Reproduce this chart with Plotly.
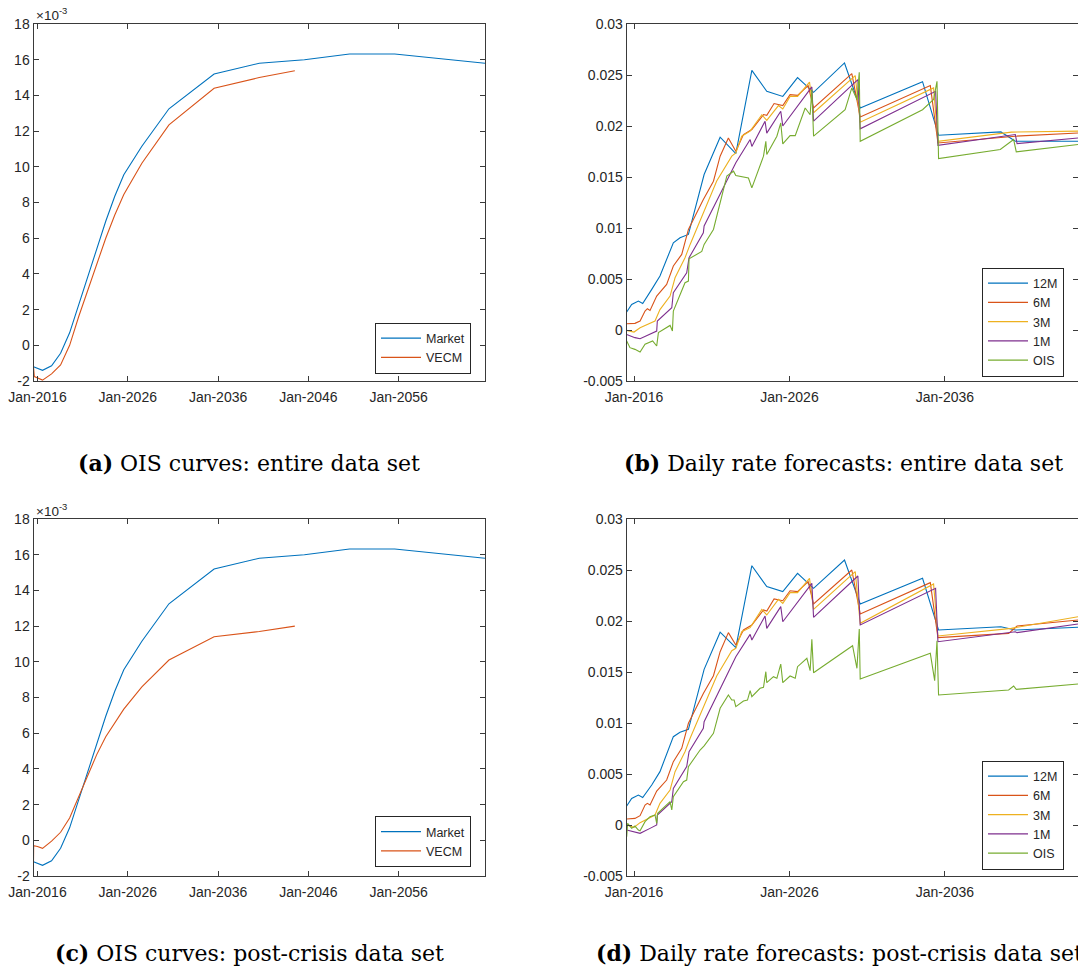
import plotly.graph_objects as go

# ------------------------------------------------------------------ data
# (a)/(c) OIS curves, values in units of 1e-3, x in decimal years
market_years = [2015.56, 2016.56, 2017.56, 2018.56, 2019.56, 2020.56, 2021.56, 2022.56,
                2023.56, 2024.56, 2025.56, 2027.56, 2030.56, 2035.56, 2040.56, 2045.56,
                2050.56, 2055.56, 2060.56, 2065.56]
market_curve = [-1.2, -1.4, -1.15, -0.45, 0.7, 2.25, 3.85, 5.4, 6.95, 8.35, 9.55, 11.15,
                13.25, 15.2, 15.8, 16.0, 16.32, 16.32, 16.05, 15.8]

vecm_full_years = [2015.56, 2015.65, 2016.56, 2017.56, 2018.56, 2019.56, 2020.56, 2021.56,
                   2022.56, 2023.56, 2024.56, 2025.56, 2027.56, 2030.56, 2035.56, 2040.56, 2044.5]
vecm_full_curve = [-1.2, -1.75, -1.95, -1.6, -1.1, 0.0, 1.6, 3.05, 4.55, 6.0, 7.3, 8.45,
                   10.2, 12.35, 14.4, 15.0, 15.38]

vecm_post_years = [2015.56, 2015.58, 2016.0, 2016.56, 2017.56, 2018.56, 2019.56, 2020.56,
                   2021.56, 2022.56, 2023.56, 2024.56, 2025.56, 2027.56, 2030.56, 2035.56,
                   2040.56, 2044.5]
vecm_post_curve = [-1.2, -0.3, -0.35, -0.45, -0.05, 0.45, 1.25, 2.45, 3.7, 4.8, 5.8, 6.6,
                   7.35, 8.6, 10.1, 11.4, 11.7, 12.0]

# (b)/(d) daily rate forecasts, values in units of 1e-3
y12_years = [2015.53, 2015.85, 2016.28, 2016.56, 2017.14, 2017.67, 2018.53, 2018.96, 2019.50,
             2020.51, 2021.54, 2022.55, 2023.58, 2024.54, 2025.57, 2026.52, 2027.55, 2029.54,
             2030.55, 2034.56, 2035.59, 2039.60, 2040.53, 2044.56]
full_12m = [1.76, 2.5, 2.84, 2.6, 3.98, 5.3, 8.55, 9.04, 9.37, 15.24, 18.9, 17.3, 25.46, 23.4,
            22.9, 24.74, 23.3, 26.18, 21.77, 24.35, 19.1, 19.42, 18.5, 18.5]
post_12m = [1.86, 2.6, 2.94, 2.7, 3.92, 5.23, 8.66, 9.1, 9.38, 15.26, 18.9, 17.4, 25.42, 23.37,
            22.88, 24.67, 23.2, 25.98, 21.67, 24.18, 19.12, 19.44, 19.12, 19.38]

full_6m_years = [2015.53, 2016.06, 2016.39, 2016.71, 2016.86, 2017.03, 2017.46, 2018.10, 2018.53,
                 2019.07, 2019.50, 2020.46, 2021.11, 2021.54, 2022.07, 2022.55, 2023.04, 2023.58,
                 2024.33, 2024.54, 2025.01, 2025.57, 2026.04, 2026.52, 2027.2, 2027.55, 2030.01,
                 2030.55, 2035.06, 2035.55, 2040.53, 2044.56]
full_6m = [0.62, 0.65, 0.88, 1.86, 2.09, 1.92, 3.33, 4.47, 6.27, 7.41, 9.86, 12.79, 14.59, 17.04,
           18.83, 17.53, 19.16, 19.65, 21.12, 21.05, 22.2, 22.0, 23.08, 23.0, 23.96, 21.77, 25.14,
           20.89, 23.96, 18.34, 19.0, 19.32]
post_6m_years = [2015.53, 2016.06, 2016.39, 2016.71, 2016.86, 2017.03, 2017.46, 2018.10, 2018.53,
                 2019.07, 2019.50, 2020.46, 2021.11, 2021.54, 2022.07, 2022.55, 2023.04, 2023.58,
                 2024.33, 2024.54, 2025.01, 2025.57, 2026.04, 2026.52, 2027.2, 2027.55, 2030.01,
                 2030.55, 2035.06, 2035.55, 2040.10, 2040.64, 2044.56]
post_6m = [0.59, 0.65, 0.92, 1.96, 2.12, 1.96, 3.33, 4.41, 6.21, 7.52, 9.97, 12.9, 14.64, 16.99,
           18.86, 17.65, 19.12, 19.61, 21.08, 20.98, 22.16, 21.99, 22.97, 22.88, 23.86, 21.67,
           25.0, 20.69, 23.76, 18.37, 18.79, 19.51, 20.1]

y3_years = [2015.53, 2016.0, 2016.39, 2017.35, 2017.67, 2018.32, 2018.64, 2019.28, 2019.61,
            2020.25, 2020.57, 2021.32, 2022.29, 2022.55, 2022.93, 2023.47, 2024.22, 2024.54,
            2025.29, 2025.57, 2026.04, 2026.52, 2027.29, 2027.55, 2030.23, 2030.55, 2035.27,
            2035.55, 2040.27, 2044.56]
full_3m = [-0.04, -0.2, 0.22, 0.88, 2.0, 3.33, 5.12, 7.08, 8.39, 10.67, 11.8, 14.6, 17.04, 17.37,
           19.0, 19.5, 21.1, 20.56, 22.0, 21.67, 22.9, 22.9, 24.3, 21.3, 24.94, 20.37, 23.73,
           18.5, 19.4, 19.5]
post_3m = [0.0, -0.23, 0.23, 0.98, 2.12, 3.43, 5.23, 7.19, 8.5, 10.78, 11.9, 14.61, 17.09, 17.32,
           18.95, 19.35, 21.14, 20.59, 22.12, 21.73, 22.78, 22.78, 24.18, 21.14, 24.84, 19.77,
           23.63, 18.53, 19.28, 20.42]

y1_years = [2015.53, 2016.06, 2016.39, 2017.03, 2017.46, 2017.50, 2018.43, 2018.53, 2019.39,
            2019.54, 2020.46, 2020.51, 2022.55, 2023.47, 2023.58, 2024.43, 2024.54, 2025.44,
            2025.57, 2027.44, 2027.55, 2030.40, 2030.55, 2035.40, 2035.55, 2040.53, 2040.64,
            2044.56]
full_1m = [-0.43, -0.75, -0.85, -0.43, -0.1, 0.88, 2.18, 3.66, 5.61, 7.08, 9.53, 10.2, 16.4,
           18.67, 18.0, 20.47, 19.3, 21.45, 20.0, 23.83, 20.47, 24.55, 19.72, 23.4, 18.1, 19.16,
           18.28, 18.83]
post_1m = [-0.49, -0.72, -0.82, -0.33, 0.0, 0.98, 2.29, 3.59, 5.72, 7.19, 9.48, 10.13, 16.5,
           18.69, 18.14, 20.49, 19.28, 21.41, 19.93, 23.69, 20.36, 24.41, 19.61, 23.2, 17.97,
           18.95, 18.86, 19.71]

full_ois_years = [2015.53, 2015.74, 2016.06, 2016.39, 2016.71, 2017.03, 2017.20, 2017.46, 2017.57,
                  2018.32, 2018.47, 2018.53, 2019.28, 2019.50, 2019.54, 2020.36, 2020.51, 2021.11,
                  2021.97, 2022.40, 2022.55, 2023.36, 2023.58, 2024.33, 2024.48, 2024.54, 2025.19,
                  2025.44, 2025.57, 2026.04, 2026.37, 2027.01, 2027.33, 2027.44, 2027.55, 2029.58,
                  2030.01, 2030.34, 2030.49, 2030.55, 2034.56, 2035.27, 2035.49, 2035.59, 2039.56,
                  2040.42, 2040.59, 2044.56]
full_ois = [-1.08, -1.73, -1.9, -2.16, -1.4, -1.24, -1.08, -1.57, -0.26, 0.45, -0.1, 1.86, 4.63,
            4.8, 6.98, 7.7, 8.39, 9.86, 15.08, 15.57, 15.14, 14.9, 13.93, 17.04, 18.5, 17.2, 19.0,
            20.3, 18.25, 19.06, 19.06, 21.77, 21.1, 23.57, 19.0, 21.6, 23.73, 22.59, 25.27, 18.5,
            21.6, 22.6, 24.38, 16.8, 17.69, 18.67, 17.46, 18.18]
post_ois_years = [2015.53, 2015.59, 2015.85, 2016.06, 2016.28, 2016.39, 2016.71, 2017.03, 2017.35,
                  2017.46, 2017.52, 2018.32, 2018.43, 2018.53, 2019.18, 2019.39, 2019.50, 2020.25,
                  2020.51, 2021.11, 2021.54, 2022.07, 2022.29, 2022.44, 2022.55, 2023.04, 2023.30,
                  2023.47, 2023.58, 2024.11, 2024.33, 2024.48, 2024.54, 2024.97, 2025.19, 2025.44,
                  2025.57, 2026.04, 2026.37, 2026.52, 2027.12, 2027.33, 2027.44, 2027.55, 2030.06,
                  2030.34, 2030.49, 2030.55, 2035.06, 2035.34, 2035.49, 2035.59, 2040.10, 2040.42,
                  2040.59, 2044.56]
post_ois = [-1.14, 0.16, -0.33, -0.1, -0.49, -0.56, 0.33, 0.82, 0.98, 0.16, 1.14, 2.29, 1.47,
            2.78, 4.25, 4.41, 5.72, 7.35, 7.75, 8.99, 11.44, 12.75, 12.25, 12.25, 11.6, 12.16,
            12.25, 13.17, 12.58, 13.4, 13.5, 15.03, 13.95, 14.54, 14.38, 15.78, 13.95, 14.61,
            14.38, 15.52, 16.34, 15.13, 18.2, 14.93, 17.58, 15.36, 19.22, 14.31, 16.83, 14.15,
            18.07, 12.75, 13.24, 13.63, 13.3, 13.82]

# axis ticks
curve_xticks = [2016, 2026, 2036, 2046, 2056]
curve_xlabels = ["Jan-2016", "Jan-2026", "Jan-2036", "Jan-2046", "Jan-2056"]
fc_xticks = [2016, 2026, 2036]
fc_xlabels = ["Jan-2016", "Jan-2026", "Jan-2036"]
curve_yticks = [-2, 0, 2, 4, 6, 8, 10, 12, 14, 16, 18]
curve_ylabels = ["-2", "0", "2", "4", "6", "8", "10", "12", "14", "16", "18"]
fc_yticks = [-0.005, 0, 0.005, 0.01, 0.015, 0.02, 0.025, 0.03]
fc_ylabels = ["-0.005", "0", "0.005", "0.01", "0.015", "0.02", "0.025", "0.03"]

captions = ["<b>(a)</b> OIS curves: entire data set",
            "<b>(b)</b> Daily rate forecasts: entire data set",
            "<b>(c)</b> OIS curves: post-crisis data set",
            "<b>(d)</b> Daily rate forecasts: post-crisis data set"]

RATE_UNIT = 1e-3

# ------------------------------------------------------------------ style
W, H = 1078, 972
FONT = "Liberation Sans, Arial, sans-serif"
TXT = "#262626"
AXC = "#3a3a3a"
BLUE, ORANGE, YELLOW, PURPLE, GREEN = "#0072BD", "#D95319", "#EDB120", "#7E2F8E", "#77AC30"


def fx(p):
    return p / W


def fy(p):
    return 1 - p / H


fig = go.Figure()


def line(x, y, name, color, xa, ya, legend, scale=1.0):
    fig.add_trace(go.Scatter(x=x, y=[v * scale for v in y], name=name, mode="lines",
                             line=dict(color=color, width=1.1), xaxis=xa, yaxis=ya,
                             legend=legend))


# (a)
line(market_years, market_curve, "Market", BLUE, "x", "y", "legend")
line(vecm_full_years, vecm_full_curve, "VECM", ORANGE, "x", "y", "legend")
# (b)
line(y12_years, full_12m, "12M", BLUE, "x2", "y2", "legend2", RATE_UNIT)
line(full_6m_years, full_6m, "6M", ORANGE, "x2", "y2", "legend2", RATE_UNIT)
line(y3_years, full_3m, "3M", YELLOW, "x2", "y2", "legend2", RATE_UNIT)
line(y1_years, full_1m, "1M", PURPLE, "x2", "y2", "legend2", RATE_UNIT)
line(full_ois_years, full_ois, "OIS", GREEN, "x2", "y2", "legend2", RATE_UNIT)
# (c)
line(market_years, market_curve, "Market", BLUE, "x3", "y3", "legend3")
line(vecm_post_years, vecm_post_curve, "VECM", ORANGE, "x3", "y3", "legend3")
# (d)
line(y12_years, post_12m, "12M", BLUE, "x4", "y4", "legend4", RATE_UNIT)
line(post_6m_years, post_6m, "6M", ORANGE, "x4", "y4", "legend4", RATE_UNIT)
line(y3_years, post_3m, "3M", YELLOW, "x4", "y4", "legend4", RATE_UNIT)
line(y1_years, post_1m, "1M", PURPLE, "x4", "y4", "legend4", RATE_UNIT)
line(post_ois_years, post_ois, "OIS", GREEN, "x4", "y4", "legend4", RATE_UNIT)


def axis(**kw):
    d = dict(showline=True, linecolor=AXC, linewidth=1, mirror="ticks", ticks="inside",
             ticklen=5, tickcolor=AXC, tickwidth=1, showgrid=False, zeroline=False,
             tickfont=dict(family=FONT, size=14, color=TXT), tickmode="array",
             fixedrange=True, automargin=False)
    d.update(kw)
    return d


LX = [fx(33.5), fx(485)]
RX = [fx(626.7), 1.0]
TOPY = [fy(381), fy(24)]
BOTY = [fy(876), fy(519)]

fig.update_layout(
    width=W, height=H, margin=dict(l=0, r=0, t=0, b=0, autoexpand=False),
    paper_bgcolor="white", plot_bgcolor="white", showlegend=True,
    xaxis=axis(domain=LX, anchor="y", range=[2015.56, 2065.56], ticklabelstandoff=3,
               tickvals=curve_xticks, ticktext=curve_xlabels),
    yaxis=axis(domain=TOPY, anchor="x", range=[-2, 18],
               tickvals=curve_yticks, ticktext=curve_ylabels),
    xaxis2=axis(domain=RX, anchor="y2", range=[2015.53, 2044.56], ticklabelstandoff=3,
                tickvals=fc_xticks, ticktext=fc_xlabels),
    yaxis2=axis(domain=TOPY, anchor="x2", range=[-0.005, 0.03],
                tickvals=fc_yticks, ticktext=fc_ylabels),
    xaxis3=axis(domain=LX, anchor="y3", range=[2015.56, 2065.56], ticklabelstandoff=3,
                tickvals=curve_xticks, ticktext=curve_xlabels),
    yaxis3=axis(domain=BOTY, anchor="x3", range=[-2, 18],
                tickvals=curve_yticks, ticktext=curve_ylabels),
    xaxis4=axis(domain=RX, anchor="y4", range=[2015.53, 2044.56], ticklabelstandoff=3,
                tickvals=fc_xticks, ticktext=fc_xlabels),
    yaxis4=axis(domain=BOTY, anchor="x4", range=[-0.005, 0.03],
                tickvals=fc_yticks, ticktext=fc_ylabels),
)

leg = dict(bgcolor="white", bordercolor=TXT, borderwidth=1, xanchor="right", yanchor="middle",
           font=dict(family=FONT, size=12.5, color=TXT), itemwidth=40, tracegroupgap=0,
           itemclick=False, itemdoubleclick=False)
fig.update_layout(
    legend=dict(leg, x=fx(471), y=fy(348)),
    legend2=dict(leg, x=fx(1064), y=fy(322)),
    legend3=dict(leg, x=fx(471), y=fy(841.5)),
    legend4=dict(leg, x=fx(1064), y=fy(815)),
)

ann = []
for ypx in (14, 510):
    ann.append(dict(xref="paper", yref="paper", x=fx(34), y=fy(ypx), xanchor="left",
                    yanchor="middle", showarrow=False, text="×10<sup>-3</sup>",
                    font=dict(family=FONT, size=13.5, color=TXT)))
CAPFONT = dict(family="DejaVu Serif, serif", size=22, color="#000000")
ann.append(dict(xref="paper", yref="paper", x=fx(249), y=fy(463), xanchor="center",
                yanchor="middle", showarrow=False, text=captions[0], font=CAPFONT))
ann.append(dict(xref="paper", yref="paper", x=fx(622), y=fy(463), xanchor="left",
                yanchor="middle", showarrow=False, text=captions[1], font=CAPFONT))
ann.append(dict(xref="paper", yref="paper", x=fx(249), y=fy(953), xanchor="center",
                yanchor="middle", showarrow=False, text=captions[2], font=CAPFONT))
ann.append(dict(xref="paper", yref="paper", x=fx(594), y=fy(953), xanchor="left",
                yanchor="middle", showarrow=False, text=captions[3], font=CAPFONT))
fig.update_layout(annotations=ann)

fig.write_html("out.html", config={"displayModeBar": False})
